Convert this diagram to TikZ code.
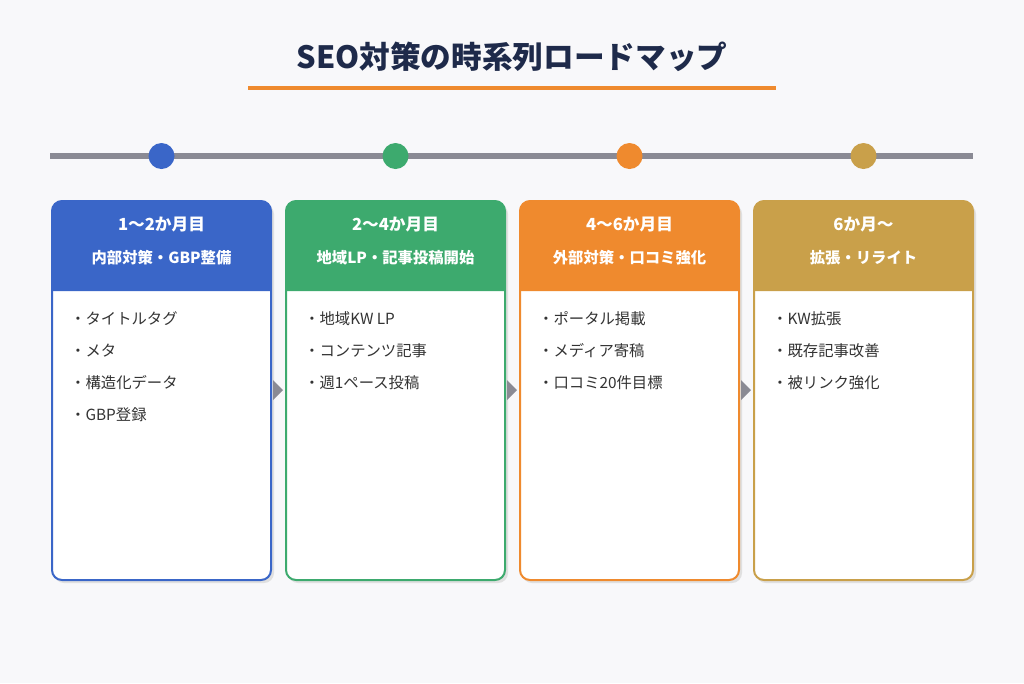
\documentclass[tikz,border=0pt]{standalone}
\usepackage{fontspec}
\setmainfont{Noto Sans CJK JP}
\usetikzlibrary{positioning}
\definecolor{navy}{HTML}{1E2A4A}
\definecolor{lineorange}{HTML}{EF8A2E}
\definecolor{railgray}{HTML}{8A8A94}
\definecolor{cblue}{HTML}{3A66C8}
\definecolor{cgreen}{HTML}{3DAA6E}
\definecolor{corange}{HTML}{EF8A2E}
\definecolor{cgold}{HTML}{C9A04A}
\definecolor{itemtext}{HTML}{333333}
\definecolor{bg}{HTML}{F8F8FA}
\tikzset{
  headtext/.style={text=white,font=\bfseries\fontsize{12.5}{14}\selectfont},
  subtext/.style={text=white,font=\bfseries\fontsize{11.5}{13}\selectfont},
  itemnode/.style={anchor=west,text=itemtext,font=\fontsize{11.5}{13}\selectfont,inner sep=0pt},
  dotnode/.style={circle,minimum size=19.5pt,inner sep=0pt}
}
\begin{document}
\begin{tikzpicture}[x=0.75pt,y=-0.75pt]
	\fill[bg] (0,0) rectangle (1024,683);
	\useasboundingbox (0,0) rectangle (1024,683);
	
	\node[text=navy,font=\bfseries\fontsize{23}{26}\selectfont] (title) at (512,57) {SEO対策の時系列ロードマップ};
	\draw[lineorange,line width=3pt] (248,88) -- (776,88);
	
	% timeline
	\coordinate (railL) at (50,156);
	\coordinate (railR) at (973,156);
	\draw[railgray,line width=4pt] (railL) -- (railR);
	
	% cards
	\foreach \i/\x/\c/\ha/\hb/\items in {%
		1/52/cblue/{1〜2か月目}/{内部対策・GBP整備}/{タイトルタグ,メタ,構造化データ,GBP登録},
		2/286/cgreen/{2〜4か月目}/{地域LP・記事投稿開始}/{地域KW LP,コンテンツ記事,週1ペース投稿},
		3/520/corange/{4〜6か月目}/{外部対策・口コミ強化}/{ポータル掲載,メディア寄稿,口コミ20件目標},
		4/754/cgold/{6か月〜}/{拡張・リライト}/{KW拡張,既存記事改善,被リンク強化}}{
		\pgfmathsetmacro\xr{\x+219}
		\pgfmathsetmacro\xm{\x+109.5}
		\node[dotnode,fill=\c] (dot\i) at (\xm,156) {};
		\fill[black!12,rounded corners=7.5] (\x+2,204) rectangle (\xr+3,583);
		\fill[white,rounded corners=7.5] (\x,201) rectangle (\xr,580);
		\fill[\c] (\x,291) [rounded corners=7.5] -- (\x,201) -- (\xr,201) [sharp corners] -- (\xr,291) -- cycle;
		\draw[\c,line width=1.5pt,rounded corners=7.5] (\x,201) rectangle (\xr,580);
		\node[headtext] (head\i) at (\xm,224) {\ha};
		\node[subtext] (sub\i) at (\xm,258) {\hb};
		\foreach \t [count=\k] in \items {
			\node[itemnode] (item\i-\k) at (\x+18,319+32*\k-32) {・\t};
		}
	}
	
	% arrows between cards
	\foreach \x in {273,507,741}{
		\fill[railgray] (\x,380) -- (\x+10,390) -- (\x,400) -- cycle;
	}
\end{tikzpicture}
\end{document}
